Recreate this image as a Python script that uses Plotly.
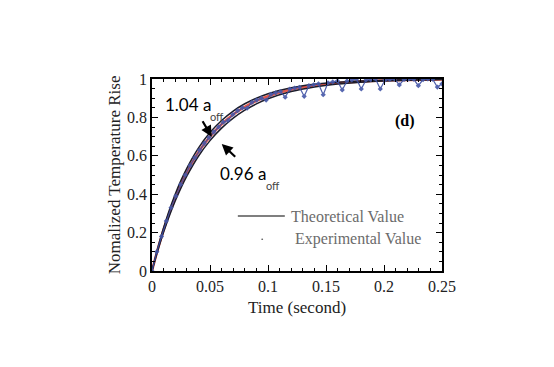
import plotly.graph_objects as go

# Theoretical curves
t_theo = [0, 0.0025, 0.005, 0.0075, 0.01, 0.015, 0.02, 0.025, 0.03, 0.04, 0.05, 0.06,
          0.07, 0.08, 0.09, 0.10, 0.12, 0.14, 0.16, 0.18, 0.20, 0.22, 0.25]
y_mid = [0, 0.0585, 0.114, 0.165, 0.214, 0.303, 0.382, 0.453, 0.515, 0.619, 0.700, 0.764,
         0.815, 0.855, 0.886, 0.910, 0.945, 0.966, 0.979, 0.987, 0.992, 0.995, 0.998]
y_hi = [0, 0.0620, 0.1200, 0.1745, 0.2250, 0.3180, 0.4000, 0.4720, 0.5350, 0.6400, 0.7210, 0.7840,
        0.8330, 0.8710, 0.9000, 0.9230, 0.9540, 0.9725, 0.9835, 0.9900, 0.9940, 0.9965, 0.9985]
y_lo = [0, 0.0550, 0.1070, 0.1560, 0.2025, 0.2880, 0.3645, 0.4330, 0.4940, 0.5975, 0.6790, 0.7440,
        0.7960, 0.8375, 0.8705, 0.8970, 0.9345, 0.9585, 0.9740, 0.9835, 0.9895, 0.9935, 0.9968]

# Experimental data
t_exp = [0.0, 0.0041, 0.0082, 0.0123, 0.0164, 0.0205, 0.0246, 0.0287, 0.0328, 0.0369,
         0.041, 0.0451, 0.0492, 0.0533, 0.0574, 0.0615, 0.0656, 0.0697, 0.0738, 0.0779,
         0.082, 0.0861, 0.0902, 0.0943, 0.0984, 0.1025, 0.1066, 0.1107, 0.1148, 0.1189,
         0.123, 0.1271, 0.1312, 0.1353, 0.1394, 0.1435, 0.1476, 0.1517, 0.1558, 0.1599,
         0.164, 0.1681, 0.1722, 0.1763, 0.1804, 0.1845, 0.1886, 0.1927, 0.1968, 0.2009,
         0.205, 0.2091, 0.2132, 0.2173, 0.2214, 0.2255, 0.2296, 0.2337, 0.2378, 0.2419,
         0.246, 0.25]
y_exp = [0.0, 0.10, 0.18, 0.26, 0.33, 0.39, 0.45, 0.50, 0.55, 0.59,
         0.63, 0.665, 0.695, 0.725, 0.75, 0.775, 0.785, 0.815, 0.835, 0.85,
         0.848, 0.878, 0.89, 0.90, 0.89, 0.92, 0.928, 0.935, 0.905, 0.948,
         0.953, 0.957, 0.91, 0.965, 0.97, 0.975, 0.918, 0.98, 0.985, 0.99,
         0.943, 0.99, 0.995, 1.0, 0.948, 0.995, 0.997, 1.0, 0.948, 0.995,
         0.998, 1.0, 0.969, 0.998, 1.0, 0.999, 0.965, 0.997, 1.0, 0.999,
         0.958, 0.975]

x_ticks = [0, 0.05, 0.1, 0.15, 0.2, 0.25]
x_tick_labels = ["0", "0.05", "0.1", "0.15", "0.2", "0.25"]
y_ticks = [0, 0.2, 0.4, 0.6, 0.8, 1]
y_tick_labels = ["0", "0.2", "0.4", "0.6", "0.8", "1"]

SERIF = "Liberation Serif, Times New Roman, serif"
SANS = "Lato, Liberation Sans, Arial, sans-serif"

fig = go.Figure()
fig.add_trace(go.Scatter(x=t_theo, y=y_mid, mode="lines", line=dict(color="#e0584c", width=2.6),
                         line_shape="spline", showlegend=False))
fig.add_trace(go.Scatter(x=t_theo, y=y_hi, mode="lines", line=dict(color="#1c1c2a", width=1.5),
                         line_shape="spline", showlegend=False))
fig.add_trace(go.Scatter(x=t_theo, y=y_lo, mode="lines", line=dict(color="#1c1c2a", width=1.5),
                         line_shape="spline", showlegend=False))
fig.add_trace(go.Scatter(x=t_exp, y=y_exp, mode="lines+markers",
                         line=dict(color="#3d4fa3", width=1.2),
                         marker=dict(color="#4557a8", size=4, symbol="diamond"),
                         opacity=0.9, showlegend=False))

axis_common = dict(showline=True, linecolor="black", linewidth=1.5, mirror="ticks",
                   ticks="inside", ticklen=6, tickcolor="black", tickwidth=1,
                   showgrid=False, zeroline=False,
                   tickfont=dict(family=SERIF, size=16, color="#222"))
fig.update_xaxes(range=[0, 0.25], tickvals=x_ticks, ticktext=x_tick_labels,
                 minor=dict(dtick=0.01, ticks="inside", ticklen=3, tickcolor="black", showgrid=False),
                 **axis_common)
fig.update_yaxes(range=[0, 1], tickvals=y_ticks, ticktext=y_tick_labels,
                 minor=dict(dtick=0.05, ticks="inside", ticklen=3, tickcolor="black", showgrid=False),
                 **axis_common)

annotations = [
    dict(x=0.5, y=-0.19, xref="paper", yref="paper", yanchor="middle", text="Time (second)",
         showarrow=False, font=dict(family=SERIF, size=17, color="#222")),
    dict(x=-0.17, y=0.5, xref="paper", yref="paper", text="Nomalized Temperature Rise",
         showarrow=False, textangle=-90, font=dict(family=SERIF, size=17, color="#222")),
    dict(x=0.0515, y=0.699, ax=-10, ay=-17, text="", showarrow=True, arrowhead=2,
         arrowsize=1, arrowwidth=2.2, arrowcolor="black"),
    dict(x=0.0601, y=0.661, ax=15, ay=14, text="", showarrow=True, arrowhead=2,
         arrowsize=1, arrowwidth=2.2, arrowcolor="black"),
    dict(x=0.0105, y=0.865, xanchor="left", yanchor="middle", text="1.04 a", showarrow=False,
         borderpad=0, font=dict(family=SANS, size=17, color="black")),
    dict(x=0.0495, y=0.805, xanchor="left", yanchor="middle", text="off", showarrow=False,
         borderpad=0, font=dict(family=SANS, size=11, color="#444")),
    dict(x=0.0575, y=0.51, xanchor="left", yanchor="middle", text="0.96 a", showarrow=False,
         borderpad=0, font=dict(family=SANS, size=17, color="black")),
    dict(x=0.0970, y=0.445, xanchor="left", yanchor="middle", text="off", showarrow=False,
         borderpad=0, font=dict(family=SANS, size=11, color="#444")),
    dict(x=0.2185, y=0.78, text="<b>(d)</b>", showarrow=False,
         font=dict(family=SERIF, size=16, color="black")),
    dict(x=0.1185, y=0.286, xanchor="left", text="Theoretical Value", showarrow=False,
         font=dict(family=SERIF, size=16, color="#6b6b6b")),
    dict(x=0.1215, y=0.166, xanchor="left", text="Experimental Value", showarrow=False,
         font=dict(family=SERIF, size=16, color="#6b6b6b")),
]

shapes = [
    dict(type="line", x0=0.074, x1=0.1145, y0=0.286, y1=0.286, xref="x", yref="y",
         line=dict(color="#555", width=1.5)),
    dict(type="circle", x0=0.0942, x1=0.0958, y0=0.161, y1=0.169, xref="x", yref="y",
         fillcolor="#555", line=dict(color="#555", width=0)),
]

# page body adds an 8px offset, so the figure is 8px smaller and margins shifted
fig.update_layout(width=546, height=359, margin=dict(l=144, r=112, t=71, b=96),
                  paper_bgcolor="white", plot_bgcolor="white",
                  annotations=annotations, shapes=shapes, showlegend=False)

fig.write_html("out.html")
